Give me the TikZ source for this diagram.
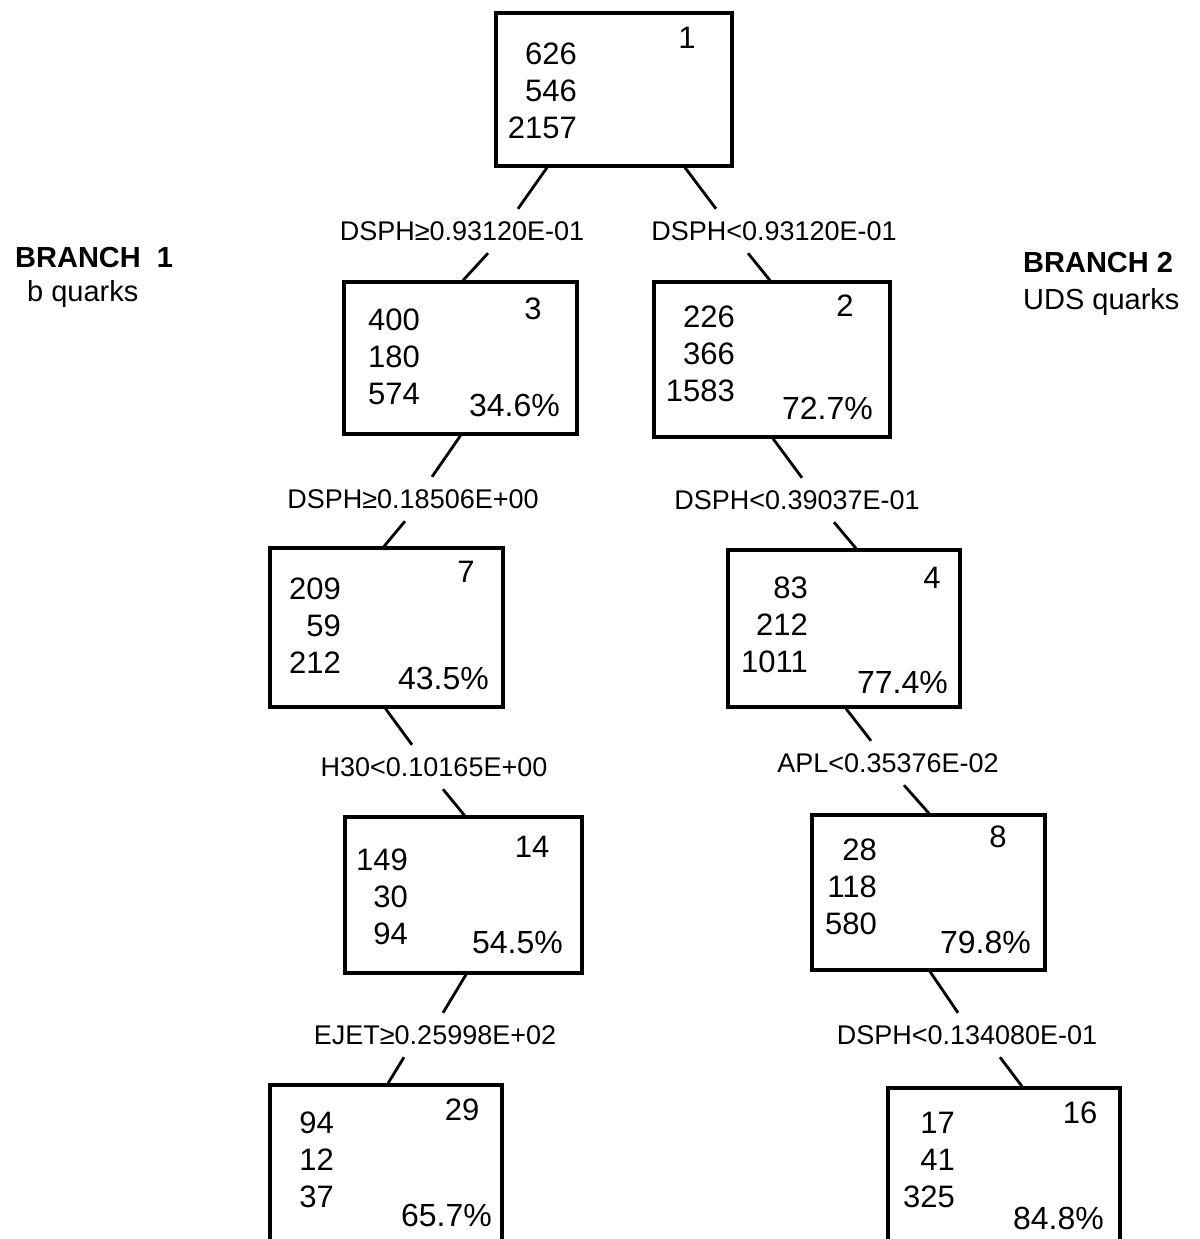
\documentclass[tikz,border=0pt]{standalone}
\usepackage{fontspec}
\setmainfont{Liberation Sans}
\usetikzlibrary{positioning}

\begin{document}
\begin{tikzpicture}[x=1pt,y=-1pt,
  box/.style={draw,line width=3.2pt,inner sep=0pt},
  cnt/.style={anchor=east,align=right,inner sep=0pt,font=\fontsize{31}{37}\selectfont},
  num/.style={inner sep=0pt,font=\fontsize{31}{37}\selectfont},
  pct/.style={anchor=east,inner sep=0pt,font=\fontsize{32}{38}\selectfont},
  cut/.style={inner sep=0pt,minimum height=44pt,font=\fontsize{27}{32}\selectfont},
  link/.style={line width=2.8pt}]
	\clip (0,0) rectangle (1199,1239);

	% branch titles
	\node[anchor=base west,inner sep=0pt,font=\fontsize{29}{34}\selectfont\bfseries] (br1) at (15,267) {BRANCH\hspace{0.55em}1};
	\node[anchor=base west,inner sep=0pt,font=\fontsize{29}{34}\selectfont] (q1) at (27,301) {b quarks};
	\node[anchor=base west,inner sep=0pt,font=\fontsize{29}{34}\selectfont\bfseries] (br2) at (1023,272) {BRANCH 2};
	\node[anchor=base west,inner sep=0pt,font=\fontsize{29}{34}\selectfont] (q2) at (1023,309) {UDS quarks};

	% root
	\node[box,minimum width=236pt,minimum height=153pt] (b1) at (614,89.5) {};
	\node[cnt] (b1n) at (577,91) {626\\546\\2157};
	\node[num] (b1id) at (687,38) {1};

	% level 1
	\node[box,minimum width=233pt,minimum height=152pt] (b3) at (460.5,358) {};
	\node[cnt] (b3n) at (420,357) {400\\180\\574};
	\node[num] (b3id) at (533,309) {3};
	\node[pct] (b3p) at (560,405) {34.6\%};

	\node[box,minimum width=236pt,minimum height=155pt] (b2) at (772,359.5) {};
	\node[cnt] (b2n) at (735,354) {226\\366\\1583};
	\node[num] (b2id) at (845,306) {2};
	\node[pct] (b2p) at (873,408) {72.7\%};

	% level 2
	\node[box,minimum width=233pt,minimum height=159pt] (b7) at (386.5,627.5) {};
	\node[cnt] (b7n) at (341,626) {209\\59\\212};
	\node[num] (b7id) at (466,572) {7};
	\node[pct] (b7p) at (489,678) {43.5\%};

	\node[box,minimum width=232pt,minimum height=157pt] (b4) at (844,628.5) {};
	\node[cnt] (b4n) at (808,625) {83\\212\\1011};
	\node[num] (b4id) at (932,578) {4};
	\node[pct] (b4p) at (948,682) {77.4\%};

	% level 3
	\node[box,minimum width=237pt,minimum height=156pt] (b14) at (463.5,895) {};
	\node[cnt] (b14n) at (408,897) {149\\30\\94};
	\node[num] (b14id) at (532,847) {14};
	\node[pct] (b14p) at (563,943) {54.5\%};

	\node[box,minimum width=233pt,minimum height=155pt] (b8) at (928.5,892.5) {};
	\node[cnt] (b8n) at (877,887) {28\\118\\580};
	\node[num] (b8id) at (998,837) {8};
	\node[pct] (b8p) at (1031,942) {79.8\%};

	% level 4 (cut by the page edge)
	\node[box,minimum width=232pt,minimum height=215pt] (b29) at (386,1192.5) {};
	\node[cnt] (b29n) at (334,1160) {94\\12\\37};
	\node[num] (b29id) at (462,1110) {29};
	\node[pct] (b29p) at (492,1215) {65.7\%};

	\node[box,minimum width=232pt,minimum height=212pt] (b16) at (1004,1194) {};
	\node[cnt] (b16n) at (955,1160) {17\\41\\325};
	\node[num] (b16id) at (1080,1113) {16};
	\node[pct] (b16p) at (1104,1218) {84.8\%};

	% cuts
	\node[cut] (l1) at (462,231) {DSPH≥0.93120E-01};
	\node[cut] (r1) at (774,231) {DSPH<0.93120E-01};
	\node[cut] (l2) at (413,499) {DSPH≥0.18506E+00};
	\node[cut] (r2) at (797,500) {DSPH<0.39037E-01};
	\node[cut] (l3) at (434,767) {H30<0.10165E+00};
	\node[cut] (r3) at (888,763) {APL<0.35376E-02};
	\node[cut] (l4) at (435,1035) {EJET≥0.25998E+02};
	\node[cut] (r4) at (967,1035) {DSPH<0.134080E-01};

	\begin{scope}[link]
	\draw ([xshift=-67pt]b1.south) -- ([xshift=56pt]l1.north);
	\draw ([xshift=26pt]l1.south) -- ([xshift=2.5pt]b3.north);
	\draw ([xshift=71pt]b1.south) -- ([xshift=-58pt]r1.north);
	\draw ([xshift=-26pt]r1.south) -- ([xshift=-2pt]b2.north);
	\draw (b3.south) -- ([xshift=19pt]l2.north);
	\draw ([xshift=-8pt]l2.south) -- ([xshift=-2.5pt]b7.north);
	\draw ([xshift=1pt]b2.south) -- ([xshift=5pt]r2.north);
	\draw ([xshift=37pt]r2.south) -- ([xshift=12pt]b4.north);
	\draw ([xshift=-1pt]b7.south) -- ([xshift=-22pt]l3.north);
	\draw ([xshift=9pt]l3.south) -- ([xshift=1pt]b14.north);
	\draw ([xshift=2pt]b4.south) -- ([xshift=-17pt]r3.north);
	\draw ([xshift=16pt]r3.south) -- ([xshift=0.5pt]b8.north);
	\draw ([xshift=2.5pt]b14.south) -- ([xshift=8pt]l4.north);
	\draw ([xshift=-31pt]l4.south) -- ([xshift=2pt]b29.north);
	\draw ([xshift=1.5pt]b8.south) -- ([xshift=-9pt]r4.north);
	\draw ([xshift=33pt]r4.south) -- ([xshift=18pt]b16.north);
	\end{scope}
\end{tikzpicture}
\end{document}
